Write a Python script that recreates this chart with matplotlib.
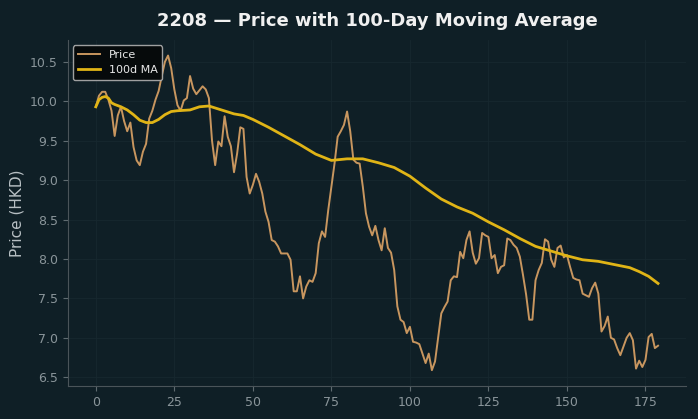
import matplotlib
matplotlib.use("Agg")
import matplotlib.pyplot as plt

# daily closing price (index = trading day)
price = [
    9.93, 10.07, 10.12, 10.12, 10.02, 9.88, 9.56, 9.82, 9.93, 9.75,
    9.62, 9.73, 9.42, 9.25, 9.19, 9.36, 9.46, 9.78, 9.88, 10.02,
    10.13, 10.32, 10.50, 10.58, 10.42, 10.15, 9.95, 9.88, 10.01, 10.04,
    10.32, 10.16, 10.09, 10.14, 10.19, 10.15, 10.04, 9.50, 9.19, 9.49,
    9.43, 9.81, 9.55, 9.43, 9.10, 9.34, 9.67, 9.65, 9.04, 8.83,
    8.94, 9.08, 8.98, 8.83, 8.60, 8.47, 8.24, 8.22, 8.16, 8.07,
    8.07, 8.07, 7.99, 7.59, 7.59, 7.78, 7.50, 7.65, 7.73, 7.71,
    7.82, 8.20, 8.35, 8.28, 8.62, 8.92, 9.21, 9.55, 9.62, 9.70,
    9.87, 9.62, 9.26, 9.22, 9.21, 8.92, 8.58, 8.41, 8.30, 8.42,
    8.24, 8.11, 8.39, 8.14, 8.08, 7.86, 7.40, 7.23, 7.20, 7.06,
    7.14, 6.95, 6.94, 6.92, 6.80, 6.68, 6.80, 6.59, 6.70, 7.00,
    7.31, 7.39, 7.46, 7.73, 7.78, 7.77, 8.09, 8.01, 8.24, 8.35,
    8.08, 7.94, 8.01, 8.33, 8.30, 8.28, 8.01, 8.05, 7.82, 7.90,
    7.92, 8.26, 8.24, 8.18, 8.14, 8.03, 7.80, 7.55, 7.23, 7.23,
    7.73, 7.86, 7.95, 8.25, 8.22, 7.99, 7.90, 8.14, 8.17, 8.02,
    8.05, 7.90, 7.76, 7.74, 7.73, 7.56, 7.54, 7.52, 7.63, 7.70,
    7.56, 7.08, 7.15, 7.27, 7.00, 6.98, 6.87, 6.78, 6.89, 7.00,
    7.06, 6.97, 6.61, 6.71, 6.63, 6.72, 7.01, 7.05, 6.87, 6.90,
]
days = list(range(len(price)))

# 100-day moving average, sampled off the reference curve
ma_days = [0, 1, 2, 3, 4, 5, 6, 8, 10, 12, 14, 16, 18, 20, 22, 24, 26, 30,
           33, 36, 40, 44, 47, 50, 55, 60, 65, 70, 75, 80, 85, 90, 95, 100,
           105, 110, 115, 120, 125, 130, 135, 140, 145, 150, 155, 160, 165,
           170, 173, 176, 179]
ma_vals = [9.93, 10.02, 10.05, 10.06, 10.04, 9.98, 9.96, 9.93, 9.89, 9.83,
           9.76, 9.73, 9.73, 9.77, 9.83, 9.87, 9.88, 9.89, 9.93, 9.94,
           9.89, 9.84, 9.82, 9.77, 9.67, 9.56, 9.45, 9.33, 9.25, 9.27,
           9.27, 9.22, 9.16, 9.05, 8.90, 8.76, 8.66, 8.58, 8.47, 8.37,
           8.26, 8.16, 8.10, 8.04, 7.99, 7.97, 7.93, 7.89, 7.84, 7.78, 7.69]

BG = "#0f1f26"

fig, ax = plt.subplots(figsize=(6.98, 4.19), dpi=100)
fig.patch.set_facecolor(BG)
ax.set_facecolor(BG)
fig.subplots_adjust(left=0.097, right=0.983, bottom=0.079, top=0.905)

ax.plot(days, price, color="#c8965f", linewidth=1.4, label="Price")
ax.plot(ma_days, ma_vals, color="#e0b416", linewidth=2.0, label="100d MA")

ax.set_title("2208 \u2014 Price with 100-Day Moving Average", color="#f0f0f0",
             fontsize=13, fontweight="bold", pad=10)
ax.set_ylabel("Price (HKD)", color="#b8c0c4", fontsize=11)
ax.set_xticks([0, 25, 50, 75, 100, 125, 150, 175])
ax.set_yticks([6.5, 7.0, 7.5, 8.0, 8.5, 9.0, 9.5, 10.0, 10.5])
ax.tick_params(colors="#5f6b70", labelcolor="#8a959a", labelsize=9)
for side in ("top", "right"):
    ax.spines[side].set_visible(False)
for side in ("left", "bottom"):
    ax.spines[side].set_color("#4a5459")
ax.grid(True, color="#17282f", linewidth=0.6)
ax.set_axisbelow(True)

leg = ax.legend(loc="upper left", fontsize=8, facecolor="#050808",
                edgecolor="#b0b0b0", framealpha=0.9)
for t in leg.get_texts():
    t.set_color("#e8e8e8")

fig.savefig("out.png", dpi=100, facecolor=BG)
